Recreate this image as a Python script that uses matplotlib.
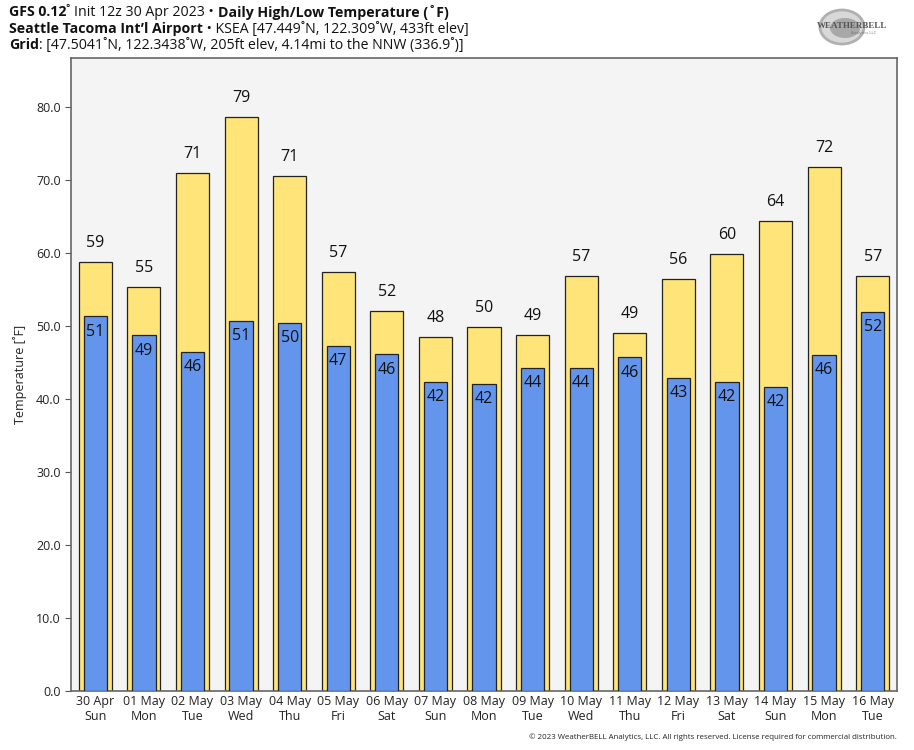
import matplotlib
matplotlib.use("Agg")
import matplotlib.pyplot as plt
from matplotlib.patches import Ellipse
import numpy as np

plt.rcParams['font.family'] = ['Open Sans', 'DejaVu Sans']

dates = ["30 Apr", "01 May", "02 May", "03 May", "04 May", "05 May", "06 May", "07 May",
         "08 May", "09 May", "10 May", "11 May", "12 May", "13 May", "14 May", "15 May", "16 May"]
days = ["Sun", "Mon", "Tue", "Wed", "Thu", "Fri", "Sat", "Sun", "Mon", "Tue", "Wed", "Thu",
        "Fri", "Sat", "Sun", "Mon", "Tue"]
highs = [58.8, 55.4, 71.0, 78.6, 70.6, 57.4, 52.0, 48.5, 49.8, 48.8, 56.9, 49.1, 56.4, 59.8, 64.4, 71.8, 56.9]
lows = [51.3, 48.7, 46.5, 50.7, 50.4, 47.3, 46.1, 42.3, 42.1, 44.3, 44.3, 45.7, 42.9, 42.3, 41.7, 46.0, 51.9]
yticks = [0, 10, 20, 30, 40, 50, 60, 70, 80]

fig = plt.figure(figsize=(9.14, 7.5), dpi=100)
ax = fig.add_axes([71/914, 1-691/750, (897-71)/914, (691-58)/750])
ax.set_facecolor('#f4f4f4')
x = np.arange(len(dates))
ax.bar(x, highs, width=0.68, color='#ffe47a', edgecolor='#222222', linewidth=0.9, zorder=2)
ax.bar(x, lows, width=0.48, color='#6495ed', edgecolor='#222222', linewidth=0.9, zorder=3)
for xi, h, l in zip(x, highs, lows):
    ax.text(xi, h + 1.5, f"{round(h):d}", ha='center', va='bottom', fontsize=11.5, color='#111111', zorder=4)
    ax.text(xi, l - 1.0, f"{round(l):d}", ha='center', va='top', fontsize=11.5, color='#111111', zorder=4)

ax.set_xlim(-0.5, len(dates) - 0.5)
ax.set_ylim(0, 86.7)
ax.set_yticks(yticks)
ax.set_yticklabels([f"{v:.1f}" for v in yticks], fontsize=9, color='#222222')
ax.set_xticks(x)
ax.set_xticklabels([f"{d}\n{w}" for d, w in zip(dates, days)], fontsize=9, color='#222222', linespacing=1.15)
ax.tick_params(axis='x', length=0, pad=3)
ax.tick_params(axis='y', length=4, color='#555555')
for s in ax.spines.values():
    s.set_color('#666666')
    s.set_linewidth(1.2)
ax.set_ylabel("Temperature [˚F]", fontsize=9, color='#222222', labelpad=6)

# Header with mixed bold/regular segments
fig.canvas.draw()
renderer = fig.canvas.get_renderer()

def line(y, parts, x0=9):
    xp = x0
    for txt, bold in parts:
        t = fig.text(xp / 914, 1 - y / 750, txt, fontsize=10.2, fontweight='bold' if bold else 'normal',
                     ha='left', va='center', color='#111111')
        bb = t.get_window_extent(renderer=renderer)
        xp += bb.width

line(12, [("GFS 0.12", True), ("˚ Init 12z 30 Apr 2023 • ", False), ("Daily High/Low Temperature (˚F)", True)])
line(29, [("Seattle Tacoma Int’l Airport", True), (" • KSEA [47.449˚N, 122.309˚W, 433ft elev]", False)])
line(45, [("Grid", True), (": [47.5041˚N, 122.3438˚W, 205ft elev, 4.14mi to the NNW (336.9˚)]", False)])

# Logo approximation
lax = fig.add_axes([812/914, 1 - 48/750, 80/914, 42/750])
lax.set_xlim(0, 80); lax.set_ylim(0, 42); lax.axis('off')
lax.add_patch(Ellipse((30, 21), 44, 34, facecolor='#d8d8d8', edgecolor='#b0b0b0', lw=2))
lax.add_patch(Ellipse((33, 20), 30, 20, facecolor='#a8a8a8', edgecolor='none'))
lax.text(40, 22, "WEATHERBELL", fontsize=6.5, fontweight='bold', color='#555555', ha='center', va='center', family='Liberation Serif')
lax.text(52, 15, "Analytics LLC", fontsize=3, color='#777777', ha='center', va='center')

fig.text(897/914, 1 - 737/750, "© 2023 WeatherBELL Analytics, LLC. All rights reserved. License required for commercial distribution.",
         fontsize=5.7, ha='right', va='center', color='#222222')

fig.savefig("out.png", dpi=100)
